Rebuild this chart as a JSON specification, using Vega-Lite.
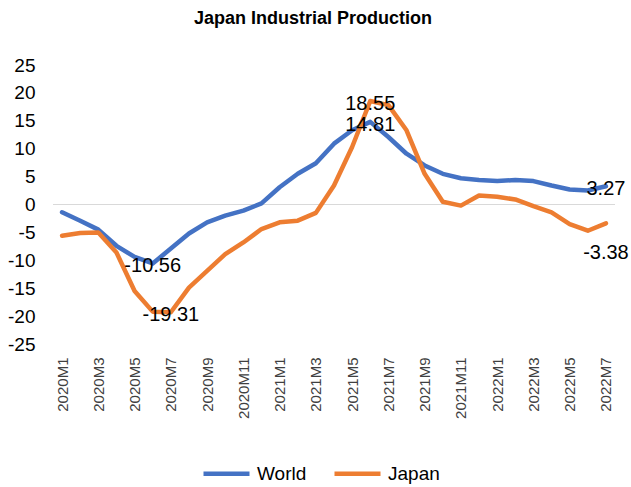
{
  "$schema": "https://vega.github.io/schema/vega-lite/v6.json",
  "autosize": "none",
  "width": 562,
  "height": 279,
  "padding": {"left": 53, "top": 65, "right": 16, "bottom": 143},
  "background": "white",
  "title": {"text": "Japan Industrial Production", "fontSize": 18, "fontWeight": "bold", "font": "Liberation Sans", "anchor": "middle", "offset": 28, "dx": -21, "color": "#000000"},
  "config": {"view": {"stroke": null}, "font": "Liberation Sans",
    "locale": {"number": {"decimal": ".", "thousands": ",", "grouping": [3], "currency": ["$", ""], "minus": "-"}}},
  "data": {"values": [
    {"month": "2020M1", "series": "World", "value": -1.4},
    {"month": "2020M2", "series": "World", "value": -2.9},
    {"month": "2020M3", "series": "World", "value": -4.5},
    {"month": "2020M4", "series": "World", "value": -7.4},
    {"month": "2020M5", "series": "World", "value": -9.4},
    {"month": "2020M6", "series": "World", "value": -10.56},
    {"month": "2020M7", "series": "World", "value": -7.9},
    {"month": "2020M8", "series": "World", "value": -5.2},
    {"month": "2020M9", "series": "World", "value": -3.2},
    {"month": "2020M10", "series": "World", "value": -2.0},
    {"month": "2020M11", "series": "World", "value": -1.1},
    {"month": "2020M12", "series": "World", "value": 0.2},
    {"month": "2021M1", "series": "World", "value": 3.1},
    {"month": "2021M2", "series": "World", "value": 5.5},
    {"month": "2021M3", "series": "World", "value": 7.4},
    {"month": "2021M4", "series": "World", "value": 10.9},
    {"month": "2021M5", "series": "World", "value": 13.3},
    {"month": "2021M6", "series": "World", "value": 14.81},
    {"month": "2021M7", "series": "World", "value": 12.1},
    {"month": "2021M8", "series": "World", "value": 9.1},
    {"month": "2021M9", "series": "World", "value": 7.0},
    {"month": "2021M10", "series": "World", "value": 5.5},
    {"month": "2021M11", "series": "World", "value": 4.7},
    {"month": "2021M12", "series": "World", "value": 4.4},
    {"month": "2022M1", "series": "World", "value": 4.2},
    {"month": "2022M2", "series": "World", "value": 4.4},
    {"month": "2022M3", "series": "World", "value": 4.2},
    {"month": "2022M4", "series": "World", "value": 3.4},
    {"month": "2022M5", "series": "World", "value": 2.7},
    {"month": "2022M6", "series": "World", "value": 2.5},
    {"month": "2022M7", "series": "World", "value": 3.27},
    {"month": "2020M1", "series": "Japan", "value": -5.6},
    {"month": "2020M2", "series": "Japan", "value": -5.1},
    {"month": "2020M3", "series": "Japan", "value": -5.0},
    {"month": "2020M4", "series": "Japan", "value": -8.6},
    {"month": "2020M5", "series": "Japan", "value": -15.5},
    {"month": "2020M6", "series": "Japan", "value": -19.2},
    {"month": "2020M7", "series": "Japan", "value": -19.31},
    {"month": "2020M8", "series": "Japan", "value": -14.9},
    {"month": "2020M9", "series": "Japan", "value": -11.9},
    {"month": "2020M10", "series": "Japan", "value": -8.9},
    {"month": "2020M11", "series": "Japan", "value": -6.8},
    {"month": "2020M12", "series": "Japan", "value": -4.4},
    {"month": "2021M1", "series": "Japan", "value": -3.2},
    {"month": "2021M2", "series": "Japan", "value": -2.9},
    {"month": "2021M3", "series": "Japan", "value": -1.5},
    {"month": "2021M4", "series": "Japan", "value": 3.4},
    {"month": "2021M5", "series": "Japan", "value": 10.3},
    {"month": "2021M6", "series": "Japan", "value": 18.55},
    {"month": "2021M7", "series": "Japan", "value": 17.8},
    {"month": "2021M8", "series": "Japan", "value": 13.3},
    {"month": "2021M9", "series": "Japan", "value": 5.5},
    {"month": "2021M10", "series": "Japan", "value": 0.5},
    {"month": "2021M11", "series": "Japan", "value": -0.2},
    {"month": "2021M12", "series": "Japan", "value": 1.6},
    {"month": "2022M1", "series": "Japan", "value": 1.4},
    {"month": "2022M2", "series": "Japan", "value": 0.9},
    {"month": "2022M3", "series": "Japan", "value": -0.3},
    {"month": "2022M4", "series": "Japan", "value": -1.4},
    {"month": "2022M5", "series": "Japan", "value": -3.5},
    {"month": "2022M6", "series": "Japan", "value": -4.7},
    {"month": "2022M7", "series": "Japan", "value": -3.38}
  ]},
  "encoding": {
    "x": {"field": "month", "type": "nominal", "sort": null,
      "scale": {"type": "point", "padding": 0.5},
      "axis": {"title": null, "labelAngle": -90, "domain": false, "ticks": false, "labelPadding": 13, "labelFontSize": 15, "labelColor": "#404040", "labelFont": "Liberation Sans",
        "values": ["2020M1","2020M3","2020M5","2020M7","2020M9","2020M11","2021M1","2021M3","2021M5","2021M7","2021M9","2021M11","2022M1","2022M3","2022M5","2022M7"]}},
    "y": {"field": "value", "type": "quantitative",
      "scale": {"domain": [-25, 25], "nice": false, "zero": false},
      "axis": {"title": null, "values": [-25,-20,-15,-10,-5,0,5,10,15,20,25], "domain": false, "ticks": false, "grid": false, "labelPadding": 18, "labelFontSize": 19, "labelColor": "#000000", "labelFont": "Liberation Sans"}}
  },
  "layer": [
    {"mark": {"type": "rule", "color": "#D9D9D9", "strokeWidth": 1}, "encoding": {"y": {"datum": 0}, "x": {"value": 0}, "x2": {"value": 562}}},
    {"mark": {"type": "line", "strokeWidth": 4.5, "strokeCap": "round", "strokeJoin": "round"},
      "encoding": {"color": {"field": "series", "type": "nominal", "sort": ["World", "Japan"],
        "scale": {"domain": ["World", "Japan"], "range": ["#4472C4", "#ED7D31"]},
        "legend": {"title": null, "orient": "none", "legendX": 148, "legendY": 383, "direction": "horizontal", "symbolType": "stroke", "symbolSize": 2116, "symbolStrokeWidth": 4.5, "labelFontSize": 19, "labelFont": "Liberation Sans", "labelColor": "#000000", "labelOffset": 5, "columnPadding": 18}}}},
    {"transform": [{"filter": "(datum.series=='World' && (datum.month=='2020M6'||datum.month=='2021M6'||datum.month=='2022M7')) || (datum.series=='Japan' && (datum.month=='2020M7'||datum.month=='2021M6'))"}],
      "mark": {"type": "text", "fontSize": 20, "font": "Liberation Sans", "color": "#000000", "baseline": "middle", "dy": 3},
      "encoding": {"text": {"field": "value", "type": "quantitative", "format": ".2f"}}},
    {"transform": [{"filter": "datum.series=='Japan' && datum.month=='2022M7'"}],
      "mark": {"type": "text", "fontSize": 20, "font": "Liberation Sans", "color": "#000000", "baseline": "middle", "dy": 30},
      "encoding": {"text": {"field": "value", "type": "quantitative", "format": ".2f"}}}
  ]
}
